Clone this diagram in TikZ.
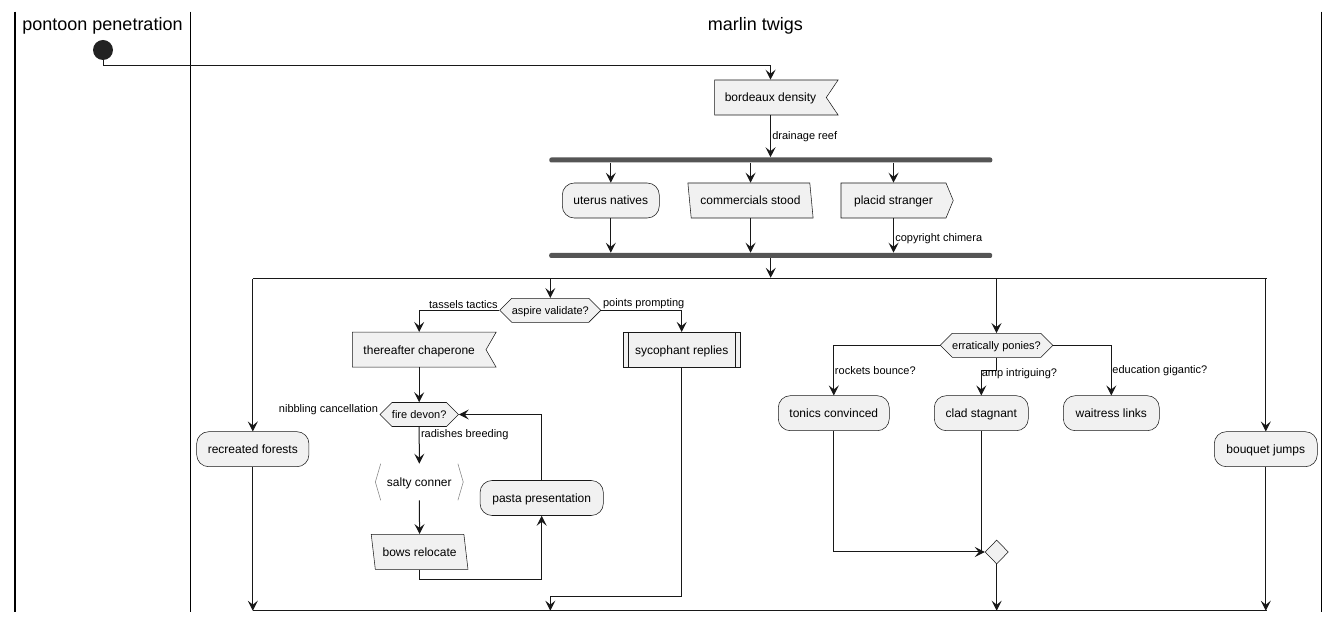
\documentclass[tikz,border=0pt]{standalone}
\usepackage{fontspec}
\setmainfont{Liberation Sans}
\usepackage{tikz}
\usetikzlibrary{shapes.geometric,shapes.symbols,arrows.meta,positioning,calc}
\definecolor{boxfill}{HTML}{F1F1F1}
\definecolor{boxline}{HTML}{181818}
\definecolor{barfill}{HTML}{555555}
\definecolor{startfill}{HTML}{222222}

\begin{document}
\begin{tikzpicture}[x=0.75pt,y=-0.75pt,
  act/.style={draw=boxline,line width=0.4pt,fill=boxfill,rounded corners=9pt,
              minimum height=26.25pt,inner sep=0pt,font=\fontsize{9}{11}\selectfont,
              text height=8.4pt,text depth=1.9pt},
  flag/.style={act,sharp corners,signal,signal to=nowhere,signal from=east},
  sendbox/.style={act,sharp corners,signal,signal to=east},
  paral/.style={act,sharp corners,trapezium,trapezium stretches=true},
  hexa/.style={act,sharp corners,signal,signal to=east and west,signal pointer angle=90,
               minimum height=18pt,font=\fontsize{8.25}{10}\selectfont,
               text height=7.7pt,text depth=1.75pt},
  bar/.style={fill=barfill,rounded corners=1.5pt,minimum width=332.25pt,
              minimum height=3.75pt,inner sep=0pt},
  hline/.style={fill=boxline,minimum width=761pt,minimum height=0.9pt,inner sep=0pt},
  flow/.style={draw=boxline,line width=0.75pt,-{Stealth[length=7.5pt,width=7.5pt,inset=3pt]}},
  wire/.style={draw=boxline,line width=0.75pt},
  outl/.style={draw=boxline,line width=0.4pt},
  lbl/.style={font=\fontsize{8.25}{10}\selectfont,inner sep=1pt},
  lanerule/.style={line width=1.1pt,black},
  lanetitle/.style={font=\fontsize{13.5}{16}\selectfont}
]
\useasboundingbox (0,0) rectangle (1340,623);

% swimlanes
\draw[lanerule] (15,11.7) -- (15,611.7);
\draw[lanerule] (190.7,11.7) -- (190.7,611.7);
\draw[lanerule] (1321.5,11.7) -- (1321.5,611.7);
\node[lanetitle] (laneA) at (102.5,25.7) {pontoon penetration};
\node[lanetitle] (laneB) at (755.5,25.7) {marlin twigs};

% top part
\node[circle,fill=startfill,minimum size=15pt,inner sep=0pt] (start) at (103,50) {};
\node[flag,signal pointer angle=112,minimum width=92.55pt] (bord) at (770.5,97.5) {bordeaux density};
\node[bar] (forkA) at (770.8,160) {};
\node[act,minimum width=72.75pt] (uter) at (610.8,200.5) {uterus natives};
\node[paral,trapezium left angle=101.5,trapezium right angle=78.5,minimum width=94.2pt] (comm) at (750.5,200.5) {commercials stood};
\node[sendbox,signal pointer angle=135,minimum width=84.2pt] (plac) at (893.5,200.5) {placid stranger};
\node[bar] (forkB) at (770.7,255.5) {};
\node[hline] (split) at (760,278.7) {};
\node[hline] (merge) at (760,610.7) {};

% left branches
\node[act,minimum width=84.2pt] (recr) at (252.8,449.2) {recreated forests};
\node[hexa,minimum width=75.5pt] (aspi) at (550.3,310.3) {aspire validate?};
\node[flag,signal pointer angle=120,minimum width=107.8pt] (there) at (419.2,349.7) {thereafter chaperone};
\node[act,sharp corners,minimum width=87.6pt] (syco) at (681.7,349.7) {sycophant replies};
\draw[outl] ([xshift=3.75pt]syco.north west) -- ([xshift=3.75pt]syco.south west);
\draw[outl] ([xshift=-3.75pt]syco.north east) -- ([xshift=-3.75pt]syco.south east);
\node[hexa,minimum width=58.7pt] (fire) at (419.2,414.5) {fire devon?};
\node[act,draw=none,fill=none,minimum width=57.5pt,minimum height=27pt] (salt) at (419.3,482) {salty conner};
\draw[outl,draw=gray] (salt.north west) -- ([xshift=-4pt]salt.west) -- (salt.south west);
\draw[outl,draw=gray] (salt.north east) -- ([xshift=4pt]salt.east) -- (salt.south east);
\node[paral,trapezium left angle=104,trapezium right angle=76,minimum width=73pt] (bows) at (419.6,551.8) {bows relocate};
\node[act,minimum width=92.5pt] (pasta) at (541.7,498) {pasta presentation};

% right branches
\node[hexa,minimum width=83.25pt] (errp) at (996.5,345.3) {erratically ponies?};
\node[act,minimum width=83.25pt] (toni) at (833.8,413.2) {tonics convinced};
\node[act,minimum width=70.5pt] (clad) at (981.3,413.2) {clad stagnant};
\node[act,minimum width=72pt] (wait) at (1111.3,413.2) {waitress links};
\node[diamond,fill=boxfill,draw=boxline,line width=0.4pt,minimum width=17.5pt,minimum height=18pt,inner sep=0pt] (mrgd) at (996.7,552) {};
\node[act,minimum width=77.25pt] (bouq) at (1265.8,449.2) {bouquet jumps};

% connectors
\draw[flow] (start.south) -- ++(0,5.5) -| (bord.north);
\draw[flow] (bord.south) -- (bord.south |- forkA.north) node[lbl,pos=0.52,right]{drainage reef};
\draw[flow] (forkA.south -| uter.north) -- (uter.north);
\draw[flow] (forkA.south -| comm.north) -- (comm.north);
\draw[flow] (forkA.south -| plac.north) -- (plac.north);
\draw[flow] (uter.south) -- (uter.south |- forkB.north);
\draw[flow] (comm.south) -- (comm.south |- forkB.north);
\draw[flow] (plac.south) -- (plac.south |- forkB.north) node[lbl,pos=0.58,right]{copyright chimera};
\draw[flow] (forkB.south) -- (forkB.south |- split.north);
\draw[flow] (split -| recr.north) -- (recr.north);
\draw[flow] (split -| aspi.north) -- (aspi.north);
\draw[flow] (split -| errp.north) -- (errp.north);
\draw[flow] (split -| bouq.north) -- (bouq.north);

\draw[flow] (aspi.west) -| (there.north) node[lbl,pos=0,above left]{tassels tactics};
\draw[flow] (aspi.east) -| (syco.north) node[lbl,pos=0,above right]{points prompting};
\draw[flow] (there.south) -- (fire.north);
\node[lbl,anchor=south east,yshift=-1.5pt] (nibb) at (fire.west) {nibbling cancellation};
\draw[flow] (fire.south) -- (salt.north) node[lbl,pos=0.2,right]{radishes breeding};
\draw[flow] (salt.south) -- (bows.north);
\draw[flow] (bows.south) -- ++(0,10) -| (pasta.south);
\draw[flow] (pasta.north) |- (fire.east);
\draw[flow] (syco.south) -- ++(0,228.7) -| (merge -| aspi.south);
\draw[flow] (recr.south) -- (merge -| recr.south);

\draw[flow] (errp.west) -| (toni.north) node[lbl,pos=0.75,right,inner sep=0.5pt]{rockets bounce?};
\draw[flow] (errp.south) -- ++(0,13) -| (clad.north) node[lbl,pos=0.56,right,inner sep=0pt]{amp intriguing?};
\draw[flow] (errp.east) -| (wait.north) node[lbl,pos=0.75,right,inner sep=0.5pt]{education gigantic?};
\draw[flow] (toni.south) |- (mrgd.west);
\draw[wire] (clad.south) -- (clad.south |- mrgd.west);
\draw[flow] (mrgd.south) -- (merge -| mrgd.south);
\draw[flow] (bouq.south) -- (merge -| bouq.south);
\end{tikzpicture}
\end{document}
